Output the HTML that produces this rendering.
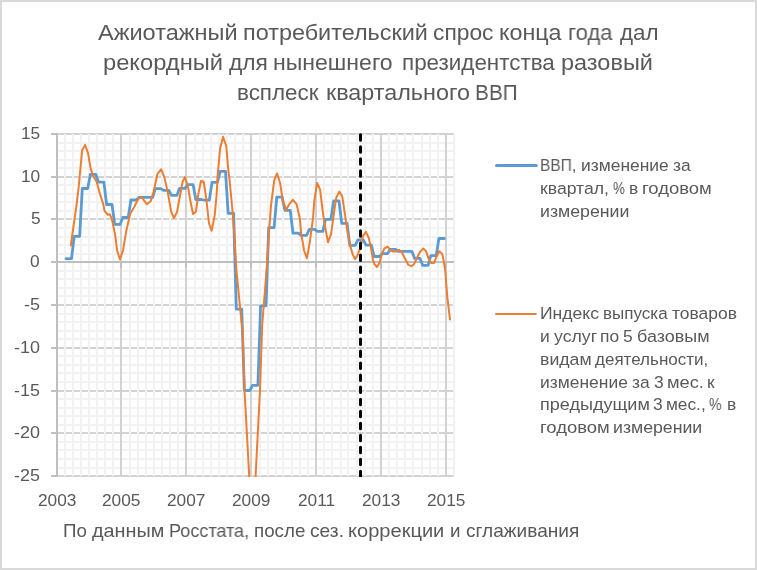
<!DOCTYPE html>
<html lang="ru"><head><meta charset="utf-8"><title>Chart</title>
<style>
html,body{margin:0;padding:0;background:#fff;}
body{width:757px;height:570px;overflow:hidden;position:relative;font-family:"Liberation Sans",sans-serif;color:#595959;}
#frame{position:absolute;left:0;top:0;width:753px;height:566px;border:2px solid #D9D9D9;background:#fff;}
svg{position:absolute;left:0;top:0;}
.t{will-change:transform;position:absolute;white-space:nowrap;line-height:1;transform-origin:0 0;display:block;}
</style></head><body>
<div id="frame"></div>
<svg width="757" height="570" viewBox="0 0 757 570">
<defs><clipPath id="pc"><rect x="57.0" y="131.9" width="399.0" height="345.1"/></clipPath><clipPath id="dc"><rect x="350" y="130" width="20" height="347"/></clipPath></defs>
<path d="M57,476H454M57,433H454M57,391H454M57,348H454M57,305H454M57,219H454M57,177H454M57,134H454" stroke="#D2D2D2" stroke-width="2" fill="none"/>
<path d="M57,468H454M57,459H454M57,450H454M57,442H454M57,425H454M57,416H454M57,408H454M57,399H454M57,382H454M57,373H454M57,365H454M57,356H454M57,339H454M57,331H454M57,322H454M57,314H454M57,296H454M57,288H454M57,279H454M57,271H454M57,254H454M57,245H454M57,237H454M57,228H454M57,211H454M57,202H454M57,194H454M57,185H454M57,168H454M57,160H454M57,151H454M57,143H454" stroke="#F2F2F2" stroke-width="2" fill="none"/>
<path d="M121,134V476M186,134V476M251,134V476M316,134V476M381,134V476M446,134V476" stroke="#D2D2D2" stroke-width="2" fill="none"/>
<path d="M65,134V476M73,134V476M81,134V476M89,134V476M97,134V476M105,134V476M113,134V476M130,134V476M138,134V476M146,134V476M154,134V476M162,134V476M170,134V476M178,134V476M195,134V476M203,134V476M211,134V476M219,134V476M227,134V476M235,134V476M243,134V476M260,134V476M268,134V476M276,134V476M283,134V476M292,134V476M300,134V476M308,134V476M324,134V476M332,134V476M341,134V476M348,134V476M357,134V476M365,134V476M373,134V476M389,134V476M397,134V476M405,134V476M413,134V476M422,134V476M430,134V476M438,134V476M454,134V476" stroke="#F2F2F2" stroke-width="2" fill="none"/>
<path d="M57,133V477M57,262H454M51,476H57M51,433H57M51,391H57M51,348H57M51,305H57M51,262H57M51,219H57M51,177H57M51,134H57M57,262V268M121,262V268M186,262V268M251,262V268M316,262V268M381,262V268M446,262V268" stroke="#BFBFBF" stroke-width="2" fill="none"/>
<g clip-path="url(#pc)">
<path d="M66.1,258.7 L68.8,258.7 L71.5,258.7 L74.2,236.4 L76.9,236.4 L79.6,236.4 L82.3,188.5 L85.0,188.5 L87.7,188.5 L90.4,174.3 L93.1,174.3 L95.8,174.3 L98.5,182.2 L101.2,182.2 L103.9,182.2 L106.6,204.5 L109.3,204.5 L112.0,204.5 L114.7,224.3 L117.4,224.3 L120.1,224.3 L122.8,217.5 L125.5,217.5 L128.2,217.5 L130.9,200.0 L133.6,200.0 L136.3,200.0 L139.1,197.4 L141.8,197.4 L144.5,197.4 L147.2,197.4 L149.9,197.4 L152.6,197.4 L155.3,188.6 L158.0,188.6 L160.7,188.6 L163.4,190.3 L166.1,190.3 L168.8,190.3 L171.5,195.3 L174.2,195.3 L176.9,195.3 L179.6,188.3 L182.3,188.3 L185.0,188.3 L187.7,184.6 L190.4,184.6 L193.1,184.6 L195.8,199.5 L198.5,199.5 L201.2,199.5 L203.9,200.2 L206.6,200.2 L209.3,200.2 L212.0,182.4 L214.7,182.4 L217.4,182.4 L220.1,171.4 L222.8,171.4 L225.5,171.4 L228.2,213.4 L230.9,213.4 L233.6,213.4 L236.3,309.2 L239.0,309.2 L241.7,309.2 L244.4,390.5 L247.1,390.5 L249.8,390.5 L252.5,385.3 L255.2,385.3 L257.9,385.3 L260.6,305.8 L263.3,305.8 L266.0,305.8 L268.7,227.6 L271.4,227.6 L274.1,227.6 L276.8,197.2 L279.5,197.2 L282.2,197.2 L284.9,210.3 L287.6,210.3 L290.3,210.3 L293.0,233.1 L295.7,233.1 L298.4,233.1 L301.1,235.4 L303.9,235.4 L306.6,235.4 L309.3,229.3 L312.0,229.3 L314.7,229.3 L317.4,231.4 L320.1,231.4 L322.8,231.4 L325.5,219.4 L328.2,219.4 L330.9,219.4 L333.6,200.9 L336.3,200.9 L339.0,200.9 L341.7,223.3 L344.4,223.3 L347.1,223.3 L349.8,245.4 L352.5,245.4 L355.2,245.4 L357.9,239.9 L360.6,239.9 L363.3,239.9 L366.0,245.2 L368.7,245.2 L371.4,245.2 L374.1,256.5 L376.8,256.5 L379.5,256.5 L382.2,253.6 L384.9,253.6 L387.6,253.6 L390.3,249.4 L393.0,249.4 L395.7,249.4 L398.4,251.4 L401.1,251.4 L403.8,251.4 L406.5,251.4 L409.2,251.4 L411.9,251.4 L414.6,258.3 L417.3,258.3 L420.0,258.3 L422.7,265.4 L425.4,265.4 L428.1,265.4 L430.8,255.7 L433.5,255.7 L436.2,255.7 L438.9,238.5 L441.6,238.5 L444.3,238.5" stroke="#5B9BD5" stroke-width="2.8" fill="none" stroke-linejoin="round" stroke-linecap="round"/>
<path d="M70.8,245.5 L76.8,203.0 L78.8,186.0 L82.1,150.5 L85.1,144.9 L88.0,153.1 L90.7,168.9 L93.3,176.2 L96.6,181.5 L99.9,193.7 L103.2,204.0 L104.5,210.8 L107.8,214.8 L109.8,214.2 L111.8,218.8 L115.1,234.6 L117.1,250.5 L120.0,259.5 L123.0,250.5 L126.3,230.7 L130.3,213.5 L134.3,206.9 L138.2,199.0 L141.5,197.0 L146.8,204.2 L150.8,200.9 L153.5,192.3 L157.5,173.8 L161.2,169.2 L164.7,178.4 L168.0,193.6 L171.3,212.1 L174.0,218.0 L177.0,212.1 L179.9,196.2 L182.6,181.7 L184.9,177.1 L187.8,185.7 L190.5,201.5 L193.1,214.1 L196.0,211.4 L198.4,193.6 L201.0,181.0 L203.7,181.7 L206.3,198.9 L209.0,223.5 L211.6,230.7 L214.6,216.1 L216.6,195.0 L217.6,176.4 L220.2,148.0 L223.1,136.7 L226.3,146.4 L228.3,170.0 L229.5,179.1 L232.5,210.9 L234.4,234.6 L236.4,270.0 L241.3,320.0 L242.6,330.0 L244.4,388.0 L249.2,476.0 L252.4,520.0 L255.6,476.0 L260.0,390.0 L262.2,325.0 L267.2,262.0 L268.8,234.6 L271.0,205.6 L274.2,180.4 L277.1,173.5 L280.1,183.0 L282.7,200.2 L286.0,210.1 L289.3,204.2 L293.0,199.9 L296.6,204.2 L299.9,218.7 L301.1,233.3 L303.2,244.9 L304.0,250.5 L306.9,258.1 L309.8,242.3 L313.1,217.2 L314.4,200.2 L317.1,183.0 L320.1,189.6 L323.0,213.4 L325.0,226.4 L328.0,242.3 L331.0,234.3 L334.3,210.8 L336.2,197.6 L339.3,191.6 L342.2,196.2 L344.8,213.4 L346.1,222.5 L347.6,232.7 L350.3,246.4 L352.9,254.9 L355.0,259.1 L357.7,254.9 L360.3,247.5 L363.0,235.9 L365.9,231.8 L368.8,238.0 L370.9,247.5 L373.0,260.2 L374.6,264.4 L376.9,267.0 L379.3,263.3 L382.0,253.8 L384.6,248.3 L387.6,246.6 L390.4,250.1 L393.1,251.5 L396.3,251.5 L399.1,249.9 L402.1,252.8 L405.2,259.1 L408.4,264.9 L411.4,266.2 L414.2,263.9 L416.9,258.0 L420.0,251.7 L423.2,248.6 L425.9,250.9 L428.5,258.3 L431.2,263.1 L433.8,263.1 L436.5,256.7 L439.3,251.2 L442.3,254.1 L443.9,262.0 L445.2,270.5 L447.3,297.0 L450.0,319.5" stroke="#ED7D31" stroke-width="2" fill="none" stroke-linejoin="round" stroke-linecap="round"/>
</g>
<path d="M360.5,134.7V490" stroke="#000" stroke-width="3" stroke-dasharray="5.5 6.52" stroke-linecap="round" fill="none" clip-path="url(#dc)"/>
<path d="M496.5,165.5H536.3" stroke="#5B9BD5" stroke-width="3" stroke-linecap="round"/>
<path d="M496,313.9H535.8" stroke="#ED7D31" stroke-width="2" stroke-linecap="round"/>
</svg>
<span class="t" style="left:98.00px;top:20px;font-size:22.4px;line-height:25px;transform:scaleX(1.0514)">Ажиотажный</span>
<span class="t" style="left:243.23px;top:20px;font-size:22.4px;line-height:25px;transform:scaleX(1.0458)">потребительский</span>
<span class="t" style="left:433.38px;top:20px;font-size:22.4px;line-height:25px;transform:scaleX(1.0182)">спрос</span>
<span class="t" style="left:498.84px;top:20px;font-size:22.4px;line-height:25px;transform:scaleX(1.0400)">конца</span>
<span class="t" style="left:568.03px;top:20px;font-size:22.4px;line-height:25px;transform:scaleX(0.9829)">года</span>
<span class="t" style="left:620.25px;top:20px;font-size:22.4px;line-height:25px;transform:scaleX(0.9986)">дал</span>
<span class="t" style="left:102.91px;top:50px;font-size:22.4px;line-height:25px;transform:scaleX(1.0585)">рекордный</span>
<span class="t" style="left:229.25px;top:50px;font-size:22.4px;line-height:25px;transform:scaleX(1.0164)">для</span>
<span class="t" style="left:272.96px;top:50px;font-size:22.4px;line-height:25px;transform:scaleX(1.0295)">нынешнего</span>
<span class="t" style="left:401.60px;top:50px;font-size:22.4px;line-height:25px;transform:scaleX(1.0003)">президентства</span>
<span class="t" style="left:561.23px;top:50px;font-size:22.4px;line-height:25px;transform:scaleX(1.0485)">разовый</span>
<span class="t" style="left:237.40px;top:80px;font-size:22.4px;line-height:25px;transform:scaleX(1.0012)">всплеск</span>
<span class="t" style="left:326.44px;top:80px;font-size:22.4px;line-height:25px;transform:scaleX(1.0428)">квартального</span>
<span class="t" style="left:475.07px;top:80px;font-size:22.4px;line-height:25px;transform:scaleX(0.9294)">ВВП</span>
<span class="t" style="left:20.91px;top:124px;font-size:16.8px;line-height:19px;transform:scaleX(1.0300)">15</span>
<span class="t" style="left:20.91px;top:167px;font-size:16.8px;line-height:19px;transform:scaleX(1.0300)">10</span>
<span class="t" style="left:30.70px;top:209px;font-size:16.8px;line-height:19px;transform:scaleX(1.0300)">5</span>
<span class="t" style="left:30.44px;top:252px;font-size:16.8px;line-height:19px;transform:scaleX(1.0300)">0</span>
<span class="t" style="left:24.19px;top:295px;font-size:16.8px;line-height:19px;transform:scaleX(1.0712)">-5</span>
<span class="t" style="left:14.28px;top:338px;font-size:16.8px;line-height:19px;transform:scaleX(1.0712)">-10</span>
<span class="t" style="left:14.28px;top:381px;font-size:16.8px;line-height:19px;transform:scaleX(1.0712)">-15</span>
<span class="t" style="left:14.28px;top:423px;font-size:16.8px;line-height:19px;transform:scaleX(1.0712)">-20</span>
<span class="t" style="left:14.28px;top:466px;font-size:16.8px;line-height:19px;transform:scaleX(1.0712)">-25</span>
<span class="t" style="left:38.27px;top:491px;font-size:16.8px;line-height:19px;transform:scaleX(1.0300)">2003</span>
<span class="t" style="left:102.27px;top:491px;font-size:16.8px;line-height:19px;transform:scaleX(1.0300)">2005</span>
<span class="t" style="left:167.27px;top:491px;font-size:16.8px;line-height:19px;transform:scaleX(1.0300)">2007</span>
<span class="t" style="left:232.27px;top:491px;font-size:16.8px;line-height:19px;transform:scaleX(1.0300)">2009</span>
<span class="t" style="left:297.91px;top:491px;font-size:16.8px;line-height:19px;transform:scaleX(1.0300)">2011</span>
<span class="t" style="left:362.27px;top:491px;font-size:16.8px;line-height:19px;transform:scaleX(1.0300)">2013</span>
<span class="t" style="left:427.27px;top:491px;font-size:16.8px;line-height:19px;transform:scaleX(1.0300)">2015</span>
<span class="t" style="left:63.04px;top:521px;font-size:18.2px;line-height:20px;transform:scaleX(1.0300)">По</span>
<span class="t" style="left:91.83px;top:521px;font-size:18.2px;line-height:20px;transform:scaleX(1.0908)">данным</span>
<span class="t" style="left:168.81px;top:521px;font-size:18.2px;line-height:20px;transform:scaleX(0.9923)">Росстата,</span>
<span class="t" style="left:254.21px;top:521px;font-size:18.2px;line-height:20px;transform:scaleX(1.0325)">после</span>
<span class="t" style="left:310.41px;top:521px;font-size:18.2px;line-height:20px;transform:scaleX(1.0555)">сез.</span>
<span class="t" style="left:348.12px;top:521px;font-size:18.2px;line-height:20px;transform:scaleX(1.1032)">коррекции</span>
<span class="t" style="left:450.22px;top:521px;font-size:18.2px;line-height:20px;transform:scaleX(1.0300)">и</span>
<span class="t" style="left:465.51px;top:521px;font-size:18.2px;line-height:20px;transform:scaleX(1.0491)">сглаживания</span>
<span class="t" style="left:539.92px;top:156px;font-size:16.9px;line-height:19px;transform:scaleX(0.9186)">ВВП,</span>
<span class="t" style="left:580.91px;top:156px;font-size:16.9px;line-height:19px;transform:scaleX(1.0313)">изменение</span>
<span class="t" style="left:673.11px;top:156px;font-size:16.9px;line-height:19px;transform:scaleX(1.0300)">за</span>
<span class="t" style="left:540.00px;top:179px;font-size:16.9px;line-height:19px;transform:scaleX(1.0435)">квартал,</span>
<span class="t" style="left:612.70px;top:179px;font-size:16.9px;line-height:19px;transform:scaleX(0.7929)">%</span>
<span class="t" style="left:629.46px;top:179px;font-size:16.9px;line-height:19px;transform:scaleX(1.0300)">в</span>
<span class="t" style="left:642.43px;top:179px;font-size:16.9px;line-height:19px;transform:scaleX(1.0927)">годовом</span>
<span class="t" style="left:539.99px;top:202px;font-size:16.9px;line-height:19px;transform:scaleX(1.0489)">измерении</span>
<span class="t" style="left:540.34px;top:304px;font-size:16.9px;line-height:19px;transform:scaleX(1.0393)">Индекс</span>
<span class="t" style="left:603.24px;top:304px;font-size:16.9px;line-height:19px;transform:scaleX(1.0079)">выпуска</span>
<span class="t" style="left:672.24px;top:304px;font-size:16.9px;line-height:19px;transform:scaleX(1.0332)">товаров</span>
<span class="t" style="left:540.41px;top:327px;font-size:16.9px;line-height:19px;transform:scaleX(1.0300)">и</span>
<span class="t" style="left:554.14px;top:327px;font-size:16.9px;line-height:19px;transform:scaleX(1.0469)">услуг</span>
<span class="t" style="left:600.42px;top:327px;font-size:16.9px;line-height:19px;transform:scaleX(1.0300)">по</span>
<span class="t" style="left:623.16px;top:327px;font-size:16.9px;line-height:19px;transform:scaleX(1.0300)">5</span>
<span class="t" style="left:636.74px;top:327px;font-size:16.9px;line-height:19px;transform:scaleX(1.0636)">базовым</span>
<span class="t" style="left:539.99px;top:350px;font-size:16.9px;line-height:19px;transform:scaleX(1.0468)">видам</span>
<span class="t" style="left:595.15px;top:350px;font-size:16.9px;line-height:19px;transform:scaleX(1.0077)">деятельности,</span>
<span class="t" style="left:540.01px;top:373px;font-size:16.9px;line-height:19px;transform:scaleX(1.0325)">изменение</span>
<span class="t" style="left:632.36px;top:373px;font-size:16.9px;line-height:19px;transform:scaleX(1.0300)">за</span>
<span class="t" style="left:654.06px;top:373px;font-size:16.9px;line-height:19px;transform:scaleX(1.0300)">3</span>
<span class="t" style="left:666.85px;top:373px;font-size:16.9px;line-height:19px;transform:scaleX(1.0816)">мес.</span>
<span class="t" style="left:706.94px;top:373px;font-size:16.9px;line-height:19px;transform:scaleX(1.0300)">к</span>
<span class="t" style="left:539.96px;top:395px;font-size:16.9px;line-height:19px;transform:scaleX(1.0687)">предыдущим</span>
<span class="t" style="left:653.16px;top:395px;font-size:16.9px;line-height:19px;transform:scaleX(1.0300)">3</span>
<span class="t" style="left:665.92px;top:395px;font-size:16.9px;line-height:19px;transform:scaleX(1.0222)">мес.,</span>
<span class="t" style="left:709.18px;top:395px;font-size:16.9px;line-height:19px;transform:scaleX(0.8357)">%</span>
<span class="t" style="left:726.56px;top:395px;font-size:16.9px;line-height:19px;transform:scaleX(1.0300)">в</span>
<span class="t" style="left:539.93px;top:418px;font-size:16.9px;line-height:19px;transform:scaleX(1.0927)">годовом</span>
<span class="t" style="left:612.99px;top:418px;font-size:16.9px;line-height:19px;transform:scaleX(1.0477)">измерении</span>
</body></html>
